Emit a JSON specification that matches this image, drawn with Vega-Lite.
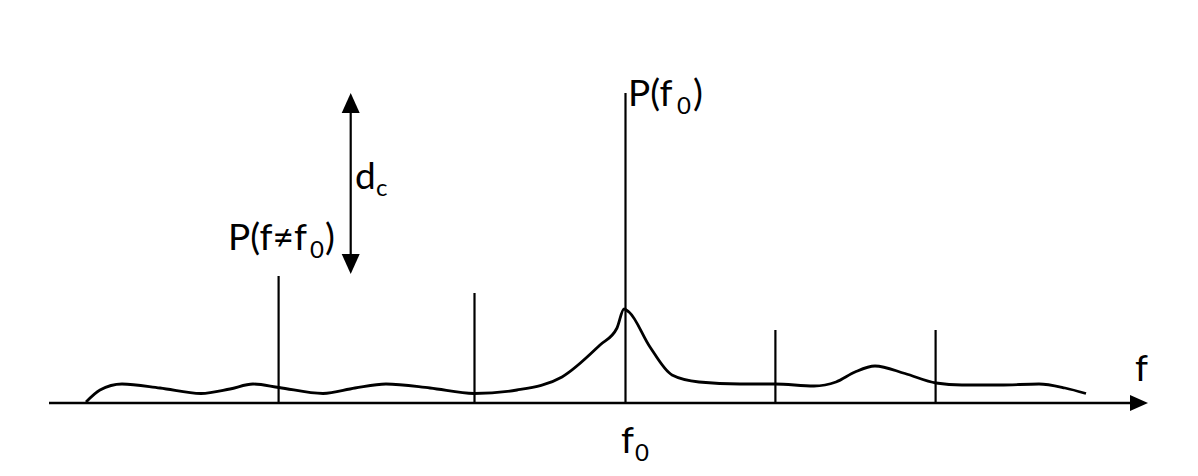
{
  "$schema": "https://vega.github.io/schema/vega-lite/v6.json",
  "width": 1198,
  "height": 476,
  "padding": 0,
  "autosize": {"type": "fit", "contains": "padding"},
  "background": "white",
  "config": {"view": {"stroke": null}, "text": {"font": "Lato"}},
  "datasets": {
    "curve": [
      {"f": 86, "p": 1}, {"f": 100, "p": 13}, {"f": 122, "p": 19}, {"f": 160, "p": 15},
      {"f": 201, "p": 9.5}, {"f": 230, "p": 14}, {"f": 253, "p": 19}, {"f": 279, "p": 15.5},
      {"f": 323, "p": 9.5}, {"f": 355, "p": 15}, {"f": 386, "p": 19}, {"f": 430, "p": 15},
      {"f": 474, "p": 9.5}, {"f": 517, "p": 13}, {"f": 562, "p": 26}, {"f": 600, "p": 58},
      {"f": 617, "p": 75}, {"f": 624, "p": 94}, {"f": 629, "p": 91}, {"f": 650, "p": 56},
      {"f": 672, "p": 28}, {"f": 699, "p": 21}, {"f": 740, "p": 19}, {"f": 775, "p": 19},
      {"f": 814, "p": 17}, {"f": 836, "p": 21}, {"f": 855, "p": 31}, {"f": 875, "p": 37},
      {"f": 905, "p": 29.5}, {"f": 936, "p": 20}, {"f": 962, "p": 18}, {"f": 1000, "p": 18},
      {"f": 1039, "p": 19}, {"f": 1065, "p": 15}, {"f": 1086, "p": 9.5}
    ],
    "spikes": [
      {"f": 278.6, "p0": 0, "p1": 127},
      {"f": 474.5, "p0": 0, "p1": 110},
      {"f": 625.5, "p0": 0, "p1": 310},
      {"f": 775.4, "p0": 0, "p1": 73},
      {"f": 935.6, "p0": 0, "p1": 73}
    ],
    "axisline": [{"f": 49, "f2": 1133, "p": 0}],
    "dcshaft": [{"f": 350.7, "p0": 145, "p1": 293}],
    "arrowRight": [{"f": 1139, "p": 0}],
    "arrowUp": [{"f": 350.7, "p": 300}],
    "arrowDown": [{"f": 350.7, "p": 139}],
    "mainText": [
      {"f": 628, "p": 297, "t": "P(f"},
      {"f": 693, "p": 297, "t": ")"},
      {"f": 228, "p": 153, "t": "P(f≠f"},
      {"f": 325, "p": 153, "t": ")"},
      {"f": 355, "p": 214, "t": "d"},
      {"f": 621, "p": -50, "t": "f"},
      {"f": 1135, "p": 22, "t": "f"}
    ],
    "subText": [
      {"f": 677, "p": 289, "t": "0"},
      {"f": 310, "p": 145, "t": "0"},
      {"f": 376, "p": 207, "t": "c"},
      {"f": 635, "p": -58, "t": "0"}
    ]
  },
  "encoding": {
    "x": {"field": "f", "type": "quantitative", "scale": {"domain": [0, 1198], "nice": false, "zero": false}, "axis": null},
    "y": {"field": "p", "type": "quantitative", "scale": {"domain": [-73, 403], "nice": false, "zero": false}, "axis": null}
  },
  "layer": [
    {
      "data": {"name": "axisline"},
      "mark": {"type": "rule", "color": "black", "strokeWidth": 2.5},
      "encoding": {"x2": {"field": "f2"}}
    },
    {
      "data": {"name": "arrowRight"},
      "mark": {"type": "point", "filled": true, "color": "black", "opacity": 1, "shape": "M-1,-0.9L1,0L-1,0.9Z", "size": 324}
    },
    {
      "data": {"name": "spikes"},
      "mark": {"type": "rule", "color": "black", "strokeWidth": 2.2},
      "encoding": {"y": {"field": "p0", "type": "quantitative"}, "y2": {"field": "p1"}}
    },
    {
      "data": {"name": "dcshaft"},
      "mark": {"type": "rule", "color": "black", "strokeWidth": 2.2},
      "encoding": {"y": {"field": "p0", "type": "quantitative"}, "y2": {"field": "p1"}}
    },
    {
      "data": {"name": "arrowUp"},
      "mark": {"type": "point", "filled": true, "color": "black", "opacity": 1, "shape": "M-1,1.1L0,-1.1L1,1.1Z", "size": 324}
    },
    {
      "data": {"name": "arrowDown"},
      "mark": {"type": "point", "filled": true, "color": "black", "opacity": 1, "shape": "M-1,-1.1L0,1.1L1,-1.1Z", "size": 324}
    },
    {
      "data": {"name": "curve"},
      "mark": {"type": "line", "color": "black", "strokeWidth": 2.8, "interpolate": "monotone"}
    },
    {
      "data": {"name": "mainText"},
      "mark": {"type": "text", "align": "left", "baseline": "alphabetic", "fontSize": 37, "color": "black"},
      "encoding": {"text": {"field": "t"}}
    },
    {
      "data": {"name": "subText"},
      "mark": {"type": "text", "align": "left", "baseline": "alphabetic", "fontSize": 24, "color": "black"},
      "encoding": {"text": {"field": "t"}}
    }
  ]
}
